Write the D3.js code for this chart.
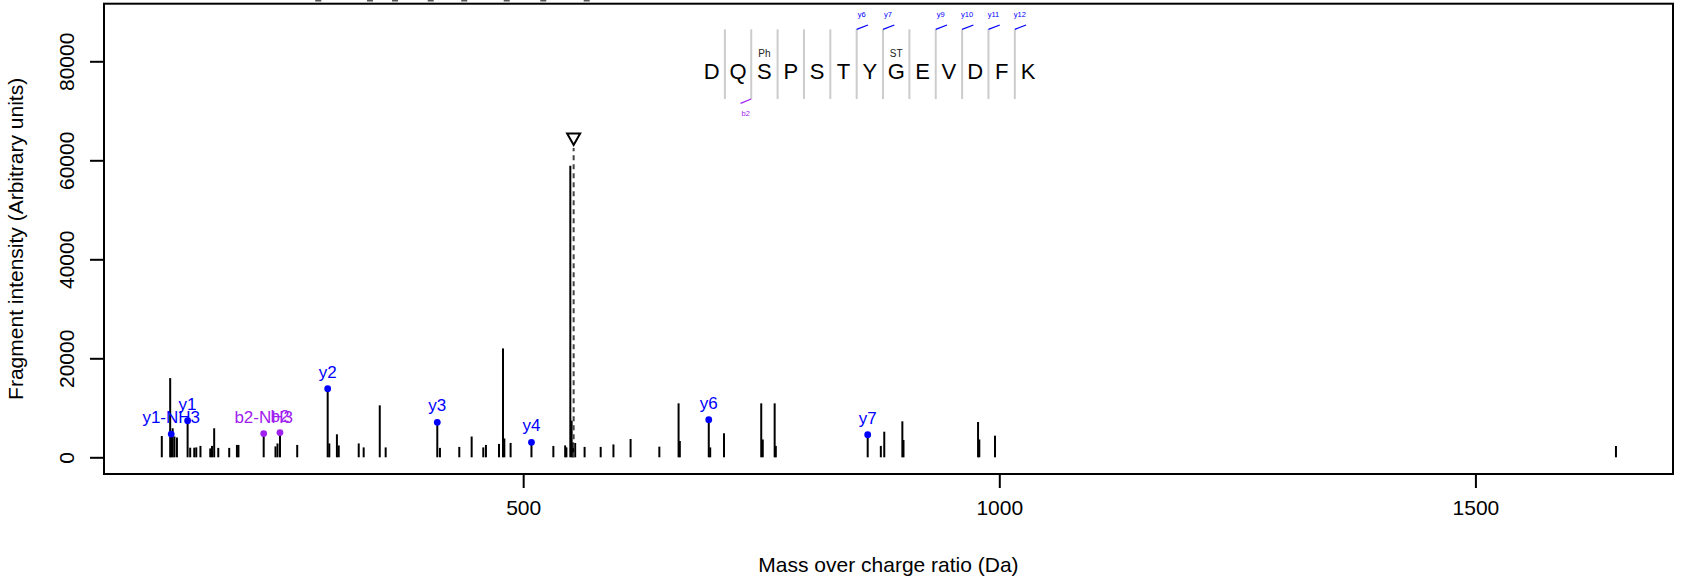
<!DOCTYPE html>
<html>
<head>
<meta charset="utf-8">
<script src="https://cdn.jsdelivr.net/npm/d3@7"></script>
<style>
  body { margin: 0; background: #fff; }
  svg text { font-family: "Liberation Sans", Arial, Helvetica, sans-serif; }
</style>
</head>
<body>
<div id="chart"></div>
<script>
// fragment peaks (m/z, intensity)
const peakMz = [120.5, 129.3, 131.9, 133.8, 136.4, 150.3, 154.6, 156.7, 161.1, 171.4, 173.2, 175.5,
  179.8, 191.3, 199.4, 201.0, 239.9, 242.0, 262.7, 296.4, 304.4, 306.3, 327.3, 332.5, 349.4,
  355.6, 412.6, 432.9, 445.9, 458.1, 460.9, 474.6, 478.8, 480.2, 486.8, 531.7, 544.1, 545.4,
  549.5, 550.9, 552.3, 554.6, 564.5, 581.4, 594.8, 612.8, 643.0, 663.2, 664.5, 696.4, 710.9,
  750.0, 751.6, 764.1, 765.3, 875.6, 879.2, 898.2, 899.4, 977.7, 979.0, 995.5, 1647.6]
const peakInt = [4300, 16000, 5860, 4200, 4000, 1940, 1940, 2000, 2300, 1800, 2300, 5860,
  1900, 1900, 2500, 2500, 2200, 2800, 2500, 2800, 4650, 2400, 2800, 2000, 10500,
  2000, 1900, 2100, 4200, 2000, 2500, 2700, 22000, 3800, 2900, 2280, 2400, 2000,
  58900, 7400, 3000, 2900, 2100, 2100, 2600, 3700, 2150, 10900, 3300, 2000, 4850,
  10900, 3600, 10900, 2300, 2300, 5170, 7270, 3500, 7130, 3600, 4370, 2280]

// matched fragment ions
const ionLabel = ['y1-NH3', 'y1', 'b2-NH3', 'b2', 'y2', 'y3', 'y4', 'y6', 'y7']
const ionType = ['y', 'y', 'b', 'b', 'y', 'y', 'y', 'y', 'y']
const ionMz = [130.4, 147.6, 227.5, 244.6, 294.7, 409.8, 508.7, 694.9, 861.8]
const ionInt = [4700, 7400, 4800, 5000, 13860, 7070, 3030, 7600, 4570]

// precursor
const precursorMz = 553.0
const precursorInt = 64300

// peptide sequence annotation
const residues = ['D', 'Q', 'S', 'P', 'S', 'T', 'Y', 'G', 'E', 'V', 'D', 'F', 'K']
const modLabel = ['', '', 'Ph', '', '', '', '', 'ST', '', '', '', '', '']
const seqY = [6, 7, 9, 10, 11, 12]
const seqB = [2]

// clipped marks at top edge
const topMarkMz = [284.8, 339.1, 365.4, 402.9, 438.1, 482.7, 521.1, 566.7]

const xTicks = [500, 1000, 1500]
const yTicks = [0, 20000, 40000, 60000, 80000]

const width = 1706
const height = 581
const mLeft = 104, mRight = 1673, mTop = 3.7, mBottom = 474
const colors = { y: '#0000ff', b: '#a020f0' }

const svg = d3.select('#chart').append('svg')
  .attr('width', width)
  .attr('height', height)

const x = d3.scaleLinear().domain([59.8, 1707.5]).range([mLeft, mRight])
const y = d3.scaleLinear().domain([-3374, 91636]).range([mBottom, mTop])

// clipped marks above the box
svg.append('g')
  .selectAll('rect')
  .data(topMarkMz)
  .enter()
  .append('rect')
  .attr('x', d => x(d) - 3)
  .attr('y', 0)
  .attr('width', 6)
  .attr('height', 1.5)
  .attr('fill', '#555')

// peaks
svg.append('g')
  .selectAll('line')
  .data(peakMz.map((m, i) => ({ m: m, v: peakInt[i] })))
  .enter()
  .append('line')
  .attr('x1', d => x(d.m))
  .attr('x2', d => x(d.m))
  .attr('y1', y(0))
  .attr('y2', d => y(d.v))
  .attr('stroke', '#000')
  .attr('stroke-width', 2)

// precursor marker
svg.append('line')
  .attr('x1', x(precursorMz))
  .attr('x2', x(precursorMz))
  .attr('y1', y(0))
  .attr('y2', y(precursorInt) + 9)
  .attr('stroke', '#444')
  .attr('stroke-width', 2)
  .attr('stroke-dasharray', '5,4')

const px = x(precursorMz), py = y(precursorInt)
svg.append('path')
  .attr('d', `M${px - 6.5},${py - 5.5}L${px + 6.5},${py - 5.5}L${px},${py + 6}Z`)
  .attr('fill', 'none')
  .attr('stroke', '#000')
  .attr('stroke-width', 2)

// ions
const ions = ionMz.map((m, i) => ({ m: m, v: ionInt[i], label: ionLabel[i], t: ionType[i] }))
let ionG = svg.append('g')
ionG.selectAll('line')
  .data(ions)
  .enter()
  .append('line')
  .attr('x1', d => x(d.m))
  .attr('x2', d => x(d.m))
  .attr('y1', y(0))
  .attr('y2', d => y(d.v))
  .attr('stroke', '#000')
  .attr('stroke-width', 2)
ionG.selectAll('circle')
  .data(ions)
  .enter()
  .append('circle')
  .attr('cx', d => x(d.m))
  .attr('cy', d => y(d.v))
  .attr('r', 3.4)
  .attr('fill', d => colors[d.t])
// labels overlap in pairs on purpose, as in the source plot
ionG.selectAll('text')
  .data(ions)
  .enter()
  .append('text')
  .attr('x', d => x(d.m))
  .attr('y', d => y(d.v) - 11)
  .attr('text-anchor', 'middle')
  .attr('font-size', 17)
  .attr('fill', d => colors[d.t])
  .text(d => d.label)

// sequence
const seqX = d3.scalePoint().domain(d3.range(residues.length)).range([711.7, 1028])
const step = seqX.step()
let seqG = svg.append('g')
seqG.selectAll('line.sep')
  .data(d3.range(1, residues.length))
  .enter()
  .append('line')
  .attr('class', 'sep')
  .attr('x1', d => seqX(d) - step / 2)
  .attr('x2', d => seqX(d) - step / 2)
  .attr('y1', 29.3)
  .attr('y2', 99)
  .attr('stroke', '#cccccc')
  .attr('stroke-width', 2)
seqG.selectAll('text.res')
  .data(residues)
  .enter()
  .append('text')
  .attr('class', 'res')
  .attr('x', (d, i) => seqX(i))
  .attr('y', 78.5)
  .attr('text-anchor', 'middle')
  .attr('font-size', 22)
  .text(d => d)
seqG.selectAll('text.mod')
  .data(modLabel)
  .enter()
  .append('text')
  .attr('class', 'mod')
  .attr('x', (d, i) => seqX(i))
  .attr('y', 56.5)
  .attr('text-anchor', 'middle')
  .attr('font-size', 10)
  .attr('fill', '#222')
  .text(d => d)
// y ion ticks over the sequence
seqY.forEach(k => {
  const sx = seqX(k) - step / 2
  seqG.append('line')
    .attr('x1', sx).attr('y1', 29.3)
    .attr('x2', sx + 11.3).attr('y2', 25)
    .attr('stroke', colors.y).attr('stroke-width', 1.3)
  seqG.append('text')
    .attr('x', sx + 5).attr('y', 17)
    .attr('text-anchor', 'middle')
    .attr('font-size', 7.5)
    .attr('fill', colors.y)
    .text('y' + k)
})
seqB.forEach(k => {
  const sx = seqX(k) - step / 2
  seqG.append('line')
    .attr('x1', sx).attr('y1', 99)
    .attr('x2', sx - 10.7).attr('y2', 103.3)
    .attr('stroke', colors.b).attr('stroke-width', 1.3)
  seqG.append('text')
    .attr('x', sx - 5.5).attr('y', 116)
    .attr('text-anchor', 'middle')
    .attr('font-size', 7.5)
    .attr('fill', colors.b)
    .text('b' + k)
})

// box
svg.append('rect')
  .attr('x', mLeft)
  .attr('y', mTop)
  .attr('width', mRight - mLeft)
  .attr('height', mBottom - mTop)
  .attr('fill', 'none')
  .attr('stroke', '#000')
  .attr('stroke-width', 2)

// axes
const xAxis = svg.append('g')
  .attr('transform', `translate(0,${mBottom})`)
  .call(d3.axisBottom(x).tickValues(xTicks).tickSize(14).tickPadding(12).tickFormat(d3.format('d')))
xAxis.select('.domain').remove()
xAxis.selectAll('line').attr('stroke-width', 2)
xAxis.selectAll('text').attr('font-size', 21).attr('fill', '#000')
  .attr('font-family', '"Liberation Sans", Arial, sans-serif')

const yAxis = svg.append('g')
  .attr('transform', `translate(${mLeft},0)`)
  .call(d3.axisLeft(y).tickValues(yTicks).tickSize(14).tickFormat(d3.format('d')))
yAxis.select('.domain').remove()
yAxis.selectAll('line').attr('stroke-width', 2)
yAxis.selectAll('text')
  .attr('font-size', 21)
  .attr('fill', '#000')
  .attr('font-family', '"Liberation Sans", Arial, sans-serif')
  .attr('text-anchor', 'middle')
  .attr('dy', null)
  .attr('x', null)
  .attr('transform', 'translate(-30,0) rotate(-90)')

svg.append('text')
  .attr('x', (mLeft + mRight) / 2)
  .attr('y', 572)
  .attr('text-anchor', 'middle')
  .attr('font-size', 21)
  .text('Mass over charge ratio (Da)')

svg.append('text')
  .attr('transform', `translate(23,${(mTop + mBottom) / 2}) rotate(-90)`)
  .attr('text-anchor', 'middle')
  .attr('font-size', 21)
  .text('Fragment intensity (Arbitrary units)')
</script>
</body>
</html>
